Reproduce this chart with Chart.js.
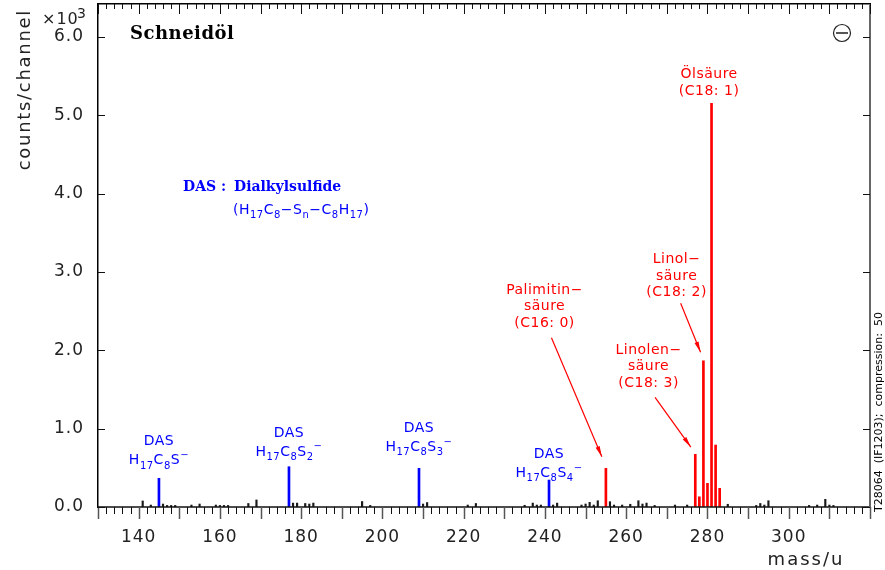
<!DOCTYPE html>
<html>
<head>
<meta charset="utf-8">
<title>Schneidöl</title>
<script src="https://cdn.jsdelivr.net/npm/chart.js@4.4.1/dist/chart.umd.min.js"></script>
<style>
  html, body { margin: 0; background: #fff; }
</style>
</head>
<body>
<canvas id="spectrum-chart" width="885" height="570"></canvas>
<script>
// Background peaks (mass in u, counts per channel)
const noiseMass = [141, 143, 146, 147, 148, 149, 153, 155, 159, 160, 161, 162, 167, 169, 178, 179, 181, 182, 183,
  195, 197, 210, 211, 221, 223, 235, 237, 238, 239, 242, 243, 249, 250, 251, 252, 253, 256, 257, 259, 261, 263,
  264, 265, 267, 272, 275, 285, 292, 293, 294, 295, 305, 307, 309, 310, 311];
const noiseCounts = [77, 25, 38, 20, 20, 20, 25, 38, 25, 20, 20, 20, 45, 90, 50, 50, 45, 38, 50,
  70, 20, 38, 57, 25, 45, 22, 50, 25, 25, 25, 50, 25, 38, 60, 25, 80, 68, 25, 25, 35, 80,
  38, 50, 20, 25, 25, 35, 20, 45, 25, 80, 20, 25, 98, 25, 20];

// Dialkylsulfide fragments H17C8Sn-
const dasMass = [145, 177, 209, 241];
const dasCounts = [366, 514, 494, 344];

// Fatty acid anions
const acidMass = [255, 277, 278, 279, 280, 281, 282, 283];
const acidCounts = [494, 672, 130, 1866, 302, 5153, 791, 238];

const xTickLabels = [140, 160, 180, 200, 220, 240, 260, 280, 300];
const yTickLabels = [0, 1000, 2000, 3000, 4000, 5000, 6000];

const toPoints = (mass, counts) => mass.map((m, i) => ({ x: m, y: counts[i] }));

const SANS = '"DejaVu Sans", sans-serif';
const SERIF = '"DejaVu Serif", serif';

// labels above the DAS peaks, dy = px between peak top and first line
const dasNotes = [
  { mass: 145, n: '', dy: 33 },
  { mass: 177, n: '2', dy: 30 },
  { mass: 209, n: '3', dy: 36 },
  { mass: 241, n: '4', dy: 22 }
];

// fatty acid labels, anchors in data coordinates
const acidNotes = [
  { lines: ['Ölsäure', '(C18: 1)'], at: [280.4, 5520] },
  { lines: ['Linol\u2212', 'säure', '(C18: 2)'], at: [272.4, 3160], arrow: [[273.4, 2600], [278.3, 1975]] },
  { lines: ['Palimitin\u2212', 'säure', '(C16: 0)'], at: [239.9, 2770], arrow: [[241.6, 2160], [254.0, 640]] },
  { lines: ['Linolen\u2212', 'säure', '(C18: 3)'], at: [265.5, 2000], arrow: [[267.1, 1400], [275.9, 765]] }
];

// draws text with sub/superscripts, parts = [[text, 'sub'|'sup'|undefined], ...]
function richText(ctx, parts, x, y, size, align) {
  const small = Math.round(size * 0.72);
  const fontFor = k => (k ? small : size) + 'px ' + SANS;
  let w = 0;
  parts.forEach(([t, k]) => { ctx.font = fontFor(k); w += ctx.measureText(t).width; });
  let cx = align === 'center' ? x - w / 2 : x;
  ctx.textAlign = 'left';
  ctx.textBaseline = 'alphabetic';
  parts.forEach(([t, k]) => {
    ctx.font = fontFor(k);
    const dy = k === 'sub' ? size * 0.3 : k === 'sup' ? -size * 0.45 : 0;
    ctx.fillText(t, cx, y + dy);
    cx += ctx.measureText(t).width;
  });
}

function arrow(ctx, x1, y1, x2, y2) {
  const ang = Math.atan2(y2 - y1, x2 - x1), len = 11, half = 0.2;
  ctx.beginPath(); ctx.moveTo(x1, y1); ctx.lineTo(x2, y2); ctx.stroke();
  ctx.beginPath(); ctx.moveTo(x2, y2);
  ctx.lineTo(x2 - len * Math.cos(ang - half), y2 - len * Math.sin(ang - half));
  ctx.lineTo(x2 - len * Math.cos(ang + half), y2 - len * Math.sin(ang + half));
  ctx.closePath(); ctx.fill();
}

const framePlugin = {
  id: 'frame',
  beforeDraw(chart) {
    chart.ctx.letterSpacing = '1px';
  },
  afterDatasetsDraw(chart) {
    const { ctx, chartArea: a, scales: { x, y } } = chart;
    const y0 = y.getPixelForValue(0);
    const left = Math.round(a.left), top = Math.round(a.top);
    ctx.save();
    ctx.letterSpacing = '0px';

    // baseline
    ctx.strokeStyle = '#111';
    ctx.lineWidth = 1.5;
    ctx.beginPath(); ctx.moveTo(left, y0); ctx.lineTo(a.right, y0); ctx.stroke();

    // right edge, grey
    ctx.fillStyle = '#666';
    ctx.fillRect(a.right - 1, top, 2, y0 - top);

    // mass ticks, top (inside) and bottom (outside)
    for (let m = 130; m <= 320; m += 2) {
      const px = Math.round(x.getPixelForValue(m)) + 0.5;
      const major = m % 10 === 0;
      ctx.strokeStyle = '#111';
      ctx.lineWidth = 1;
      ctx.beginPath(); ctx.moveTo(px, top); ctx.lineTo(px, top + (major ? 10 : 5)); ctx.stroke();
      ctx.strokeStyle = major ? '#555' : '#111';
      ctx.lineWidth = major ? 1.5 : 1;
      ctx.beginPath(); ctx.moveTo(px, y0); ctx.lineTo(px, y0 + (major ? 12 : 7)); ctx.stroke();
    }
    // count ticks, left and right (inside)
    ctx.strokeStyle = '#111';
    ctx.lineWidth = 1;
    yTickLabels.forEach(v => {
      const py = Math.round(y.getPixelForValue(v)) + 0.5;
      ctx.beginPath(); ctx.moveTo(left, py); ctx.lineTo(left + 7, py); ctx.stroke();
      ctx.beginPath(); ctx.moveTo(a.right, py); ctx.lineTo(a.right - 7, py); ctx.stroke();
    });

    // axis titles
    ctx.fillStyle = '#222';
    ctx.letterSpacing = '2px';
    ctx.font = '18px ' + SANS;
    ctx.textAlign = 'center';
    ctx.textBaseline = 'alphabetic';
    ctx.fillText('mass/u', 806, 565);
    ctx.save();
    ctx.translate(30, 9);
    ctx.rotate(-Math.PI / 2);
    ctx.letterSpacing = '1.7px';
    ctx.textAlign = 'right';
    ctx.fillText('counts/channel', 0, 0);
    ctx.restore();
    ctx.letterSpacing = '1px';
    ctx.font = '16px ' + SANS;
    ctx.textAlign = 'left';
    ctx.fillText('\u00d710', 42, 24);
    ctx.font = '14px ' + SANS;
    ctx.fillText('3', 77, 18);

    // run info along the right edge
    ctx.save();
    ctx.translate(882, 512);
    ctx.rotate(-Math.PI / 2);
    ctx.letterSpacing = '0px';
    ctx.fillStyle = '#000';
    ctx.font = '11px ' + SANS;
    ctx.textAlign = 'left';
    ctx.fillText('T28064  (IF1203);  compression:  50', 0, 0);
    ctx.restore();

    // sample name and polarity sign
    ctx.letterSpacing = '0.5px';
    ctx.fillStyle = '#000';
    ctx.font = 'bold 18px ' + SERIF;
    ctx.textAlign = 'left';
    ctx.fillText('Schneidöl', 130, 39);
    ctx.strokeStyle = '#222';
    ctx.lineWidth = 1.2;
    ctx.beginPath(); ctx.arc(842, 33, 8.5, 0, Math.PI * 2); ctx.stroke();
    ctx.strokeStyle = '#555';
    ctx.lineWidth = 2;
    ctx.beginPath(); ctx.moveTo(836, 33); ctx.lineTo(848, 33); ctx.stroke();

    // DAS legend
    ctx.fillStyle = '#0000ff';
    ctx.font = 'bold 14px ' + SERIF;
    ctx.letterSpacing = '0px';
    ctx.fillText('DAS :', 183, 191);
    ctx.fillText('Dialkylsulfide', 234, 191);
    ctx.letterSpacing = '0.5px';
    richText(ctx, [['(H'], ['17', 'sub'], ['C'], ['8', 'sub'], ['\u2212S'], ['n', 'sub'], ['\u2212C'], ['8', 'sub'],
      ['H'], ['17', 'sub'], [')']], 233, 214, 14, 'left');

    // DAS peak labels
    dasNotes.forEach(n => {
      const px = x.getPixelForValue(n.mass);
      const pTop = y.getPixelForValue(dasCounts[dasMass.indexOf(n.mass)]);
      ctx.font = '14px ' + SANS;
      ctx.textAlign = 'center';
      ctx.fillText('DAS', px, pTop - n.dy);
      const parts = [['H'], ['17', 'sub'], ['C'], ['8', 'sub'], ['S']];
      if (n.n) parts.push([n.n, 'sub']);
      parts.push(['\u2212', 'sup']);
      richText(ctx, parts, px, pTop - n.dy + 19, 14, 'center');
    });

    // fatty acid labels and arrows
    ctx.fillStyle = '#ff0000';
    ctx.strokeStyle = '#ff0000';
    ctx.lineWidth = 1.2;
    acidNotes.forEach(n => {
      const px = x.getPixelForValue(n.at[0]);
      const py = y.getPixelForValue(n.at[1]);
      ctx.font = '14px ' + SANS;
      ctx.textAlign = 'center';
      ctx.textBaseline = 'middle';
      n.lines.forEach((t, i) => ctx.fillText(t, px, py + i * 16.5));
      if (n.arrow) {
        const [[m1, c1], [m2, c2]] = n.arrow;
        arrow(ctx, x.getPixelForValue(m1), y.getPixelForValue(c1), x.getPixelForValue(m2), y.getPixelForValue(c2));
      }
    });
    ctx.restore();
  },
  afterDraw(chart) {
    chart.ctx.letterSpacing = '0px';
  }
};

const ctx = document.getElementById('spectrum-chart').getContext('2d');

const spectrumChart = new Chart(ctx, {
  type: 'bar',
  data: {
    datasets: [{
      label: 'Untergrund',
      data: toPoints(noiseMass, noiseCounts),
      backgroundColor: '#1a1a1a',
      barThickness: 1.5,
      grouped: false
    }, {
      label: 'DAS',
      data: toPoints(dasMass, dasCounts),
      backgroundColor: '#0000ff',
      barThickness: 2,
      grouped: false
    }, {
      label: 'Fettsäuren',
      data: toPoints(acidMass, acidCounts),
      backgroundColor: '#ff0000',
      barThickness: 2,
      grouped: false
    }]
  },
  options: {
    responsive: false,
    animation: false,
    devicePixelRatio: 1,
    layout: { padding: { top: 4, right: 15, left: 0, bottom: 0 } },
    plugins: {
      legend: { display: false },
      tooltip: { enabled: false }
    },
    scales: {
      x: {
        type: 'linear',
        min: 130,
        max: 320,
        offset: false,
        grid: { display: false, drawTicks: false },
        border: { display: false },
        afterBuildTicks: s => { s.ticks = xTickLabels.map(v => ({ value: v })); },
        afterFit: s => { s.height = 63; s.paddingLeft = 0; s.paddingRight = 0; },
        ticks: {
          color: '#222',
          font: { family: SANS, size: 17 },
          padding: 20,
          maxRotation: 0,
          autoSkip: false
        }
      },
      // top frame line only
      xTop: {
        type: 'linear',
        position: 'top',
        min: 130,
        max: 320,
        offset: false,
        grid: { display: false, drawTicks: false },
        border: { display: true, color: '#000', width: 1.5 },
        ticks: { display: false },
        afterFit: s => { s.height = 0; s.paddingLeft = 0; s.paddingRight = 0; }
      },
      y: {
        min: 0,
        max: 6420,
        grid: { display: false, drawTicks: false },
        border: { display: true, color: '#000', width: 1.5 },
        afterBuildTicks: s => { s.ticks = yTickLabels.map(v => ({ value: v })); },
        afterFit: s => { s.width = 98; s.paddingTop = 0; s.paddingBottom = 0; },
        ticks: {
          color: '#222',
          font: { family: SANS, size: 17 },
          padding: 14,
          callback: v => (v / 1000).toFixed(1)
        }
      }
    }
  },
  plugins: [framePlugin]
});
</script>
</body>
</html>
